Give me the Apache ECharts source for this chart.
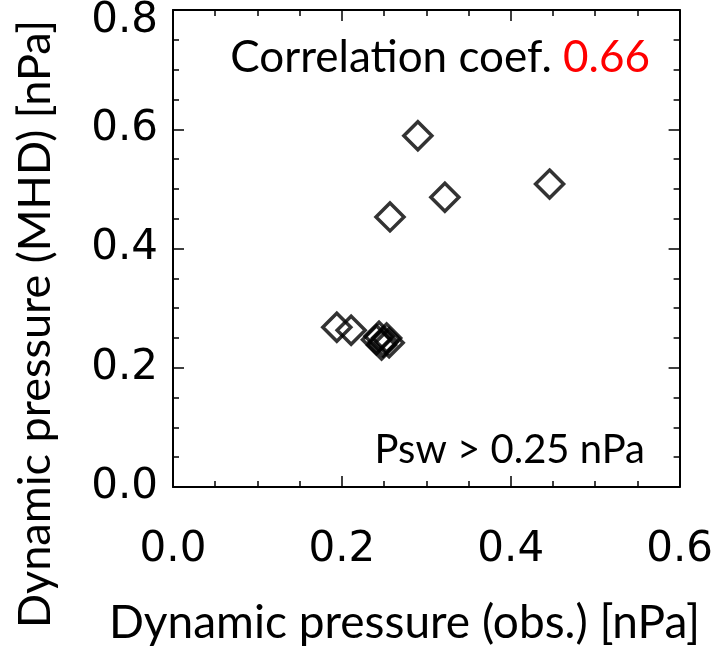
<!DOCTYPE html>
<html>
<head>
<meta charset="utf-8">
<script src="https://cdn.jsdelivr.net/npm/echarts@6/dist/echarts.min.js"></script>
<style>
  html, body { margin: 0; padding: 0; background: #fff; }
  #chart { width: 716px; height: 648px; }
</style>
</head>
<body>
<div id="chart"></div>
<script>
// Observed vs. modelled solar-wind dynamic pressure (nPa)
const obsPressure = [0.290, 0.446, 0.322, 0.257, 0.194, 0.211, 0.241, 0.247, 0.253, 0.249, 0.256, 0.244];
const mhdPressure = [0.589, 0.508, 0.486, 0.453, 0.268, 0.263, 0.247, 0.238, 0.250, 0.243, 0.242, 0.253];
const xTicks = [0.0, 0.2, 0.4, 0.6];
const yTicks = [0.0, 0.2, 0.4, 0.6, 0.8];
const corrCoef = '0.66';
const thresholdText = 'Psw > 0.25 nPa';
const xTitle = 'Dynamic pressure (obs.) [nPa]';
const yTitle = 'Dynamic pressure (MHD) [nPa]';

const points = obsPressure.map((x, i) => [x, mhdPressure[i]]);

const titleFont = 'Lato, "Open Sans", sans-serif';
const tickFont = 'DejaVu Sans';

function axisBase(show, range, ticks, pos) {
  return {
    type: 'value',
    position: pos,
    min: range[0],
    max: range[1],
    interval: 0.2,
    axisLine: { show: true, onZero: false, lineStyle: { color: '#000', width: 2 } },
    axisTick: { show: true, inside: true, length: 11, lineStyle: { color: '#000', width: 1.5 } },
    minorTick: { show: true, splitNumber: 4, length: 6, lineStyle: { color: '#000', width: 1.5 } },
    splitLine: { show: false },
    axisLabel: {
      show: show,
      fontFamily: tickFont,
      fontSize: 42,
      color: '#000',
      formatter: v => {
        const hit = ticks.find(t => Math.abs(t - v) < 1e-9);
        return hit === undefined ? '' : hit.toFixed(1);
      }
    }
  };
}

const xBottom = axisBase(true, [0, 0.6], xTicks, 'bottom');
xBottom.axisLabel.margin = 42;
const xTop = axisBase(false, [0, 0.6], xTicks, 'top');
const yLeft = axisBase(true, [0, 0.8], yTicks, 'left');
yLeft.axisLabel.margin = 15;
// keep the topmost y label inside the canvas
yLeft.axisLabel.formatter = v => {
  const hit = yTicks.find(t => Math.abs(t - v) < 1e-9);
  if (hit === undefined) return '';
  return hit === yTicks[yTicks.length - 1] ? '{top|' + hit.toFixed(1) + '}' : hit.toFixed(1);
};
yLeft.axisLabel.rich = { top: { fontFamily: tickFont, fontSize: 42, color: '#000', padding: [22, 0, 0, 0] } };
const yRight = axisBase(false, [0, 0.8], yTicks, 'right');

const chart = echarts.init(document.getElementById('chart'), null, { renderer: 'canvas' });
chart.setOption({
  backgroundColor: '#fff',
  animation: false,
  grid: { left: 173, right: 33, top: 10, bottom: 161, containLabel: false },
  xAxis: [xBottom, xTop],
  yAxis: [yLeft, yRight],
  series: [{
    type: 'scatter',
    xAxisIndex: 0,
    yAxisIndex: 0,
    data: points,
    symbol: 'diamond',
    symbolSize: 28,
    itemStyle: { color: 'rgba(0,0,0,0)', borderColor: '#000', borderWidth: 3.5 }
  }],
  graphic: [
    {
      type: 'text',
      right: 66,
      top: 36,
      style: {
        text: 'Correlation coef. {r|' + corrCoef + '}',
        font: '44px ' + titleFont,
        fill: '#000',
        rich: { r: { fill: '#ff0000', fontSize: 44, fontFamily: titleFont } }
      }
    },
    {
      type: 'text',
      right: 71,
      top: 430,
      style: { text: thresholdText, font: '40px ' + titleFont, fill: '#000' }
    },
    {
      type: 'text',
      left: 109,
      top: 600,
      style: { text: xTitle, font: '46px ' + titleFont, fill: '#000' }
    },
    {
      type: 'text',
      x: 35,
      y: 324,
      rotation: Math.PI / 2,
      style: {
        text: yTitle,
        font: '45px ' + titleFont,
        fill: '#000',
        align: 'center',
        verticalAlign: 'middle'
      }
    }
  ]
});
</script>
</body>
</html>
